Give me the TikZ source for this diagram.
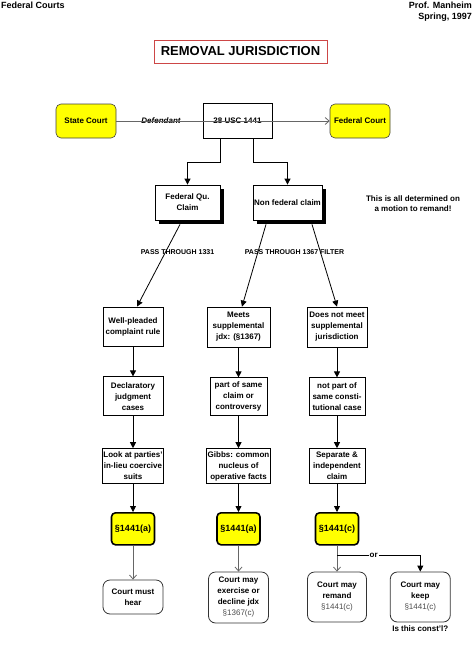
\documentclass[tikz,border=0pt]{standalone}
\usepackage{fontspec}
\setmainfont{Liberation Sans}
\usetikzlibrary{positioning,arrows.meta}

\definecolor{hiyellow}{RGB}{255,255,0}
\definecolor{titlered}{RGB}{205,70,70}

\begin{document}
\begin{tikzpicture}[x=1pt, y=-1pt,
		every node/.style={font=\bfseries\fontsize{8}{11}\selectfont, align=center, inner sep=1pt},
		box/.style={draw, rectangle, fill=white, line width=0.8pt},
		shadowline/.style={draw=black, line width=4pt, line join=miter, line cap=butt},
		court/.style={draw=black!75, rounded corners=5pt, fill=hiyellow, line width=0.6pt, minimum width=60pt, minimum height=34pt},
		sect/.style={draw, rounded corners=4pt, fill=hiyellow, line width=1.6pt, minimum width=43pt, minimum height=32pt, font=\bfseries\fontsize{9}{11}\selectfont},
		result/.style={draw=black!80, rounded corners=7pt, line width=0.8pt, minimum width=60pt},
		arr/.style={line width=0.8pt, -{Triangle[length=6pt, width=6pt]}},
		openarr/.style={line width=0.8pt, black!60, -{Straight Barb[length=4pt, width=7pt]}}
	]
	\useasboundingbox (0,0) rectangle (474,645);

	% header
	\node [anchor=north west, font=\bfseries\fontsize{9}{11}\selectfont] (course) at (0,1) {Federal Courts};
	\node [anchor=north east, align=right, font=\bfseries\fontsize{9}{11}\selectfont] (prof) at (473,1) {Prof. Manheim\\Spring, 1997};
	\node [draw=titlered, line width=0.8pt, minimum width=173pt, minimum height=23pt, font=\bfseries\fontsize{13}{15}\selectfont] (title) at (240.5,51.5) {REMOVAL JURISDICTION};

	% top row
	\node (state) [court] at (86,121) {State Court};
	\node (usc) [box, minimum width=69pt, minimum height=35pt] at (237.5,120.5) {28 USC 1441};
	\node (fed) [court] at (360,121) {Federal Court};
	\node (dfd) [font=\bfseries\itshape\fontsize{8}{10}\selectfont] at (161,121) {Defendant};

	% claim boxes with drop shadows
	\node (fq) [box, minimum width=65pt, minimum height=35pt] at (187.5,202.5) {Federal Qu.\\Claim};
	\node (nf) [box, minimum width=69pt, minimum height=35pt] at (287.5,202.5) {Non federal claim};
	\draw [shadowline] (159,222.4) -- (222.4,222.4) -- (222.4,189);
	\draw [shadowline] (257,222.4) -- (324.4,222.4) -- (324.4,189);
	\node (note) [font=\bfseries\fontsize{8}{10}\selectfont] at (413,204) {This is all determined on\\a motion to remand!};

	\node (pass1) [font=\bfseries\fontsize{7}{9}\selectfont] at (177.5,252) {PASS THROUGH 1331};
	\node (pass2) [font=\bfseries\fontsize{7}{9}\selectfont] at (294.5,252) {PASS THROUGH 1367 FILTER};

	% federal question column
	\node (wp) [box, minimum width=60pt, minimum height=39pt] at (133,326.5) {Well-pleaded\\complaint rule};
	\node (decl) [box, below=30pt of wp, minimum width=60pt, minimum height=39pt] {Declaratory\\judgment\\cases};
	\node (look) [box, below=32pt of decl, minimum width=61pt, minimum height=35pt] {Look at parties'\\in-lieu coercive\\suits};
	\node (s1) [sect, below=28pt of look] {§1441(a)};
	\node (must) [result, below=34pt of s1, minimum height=34pt] {Court must\\hear};

	% supplemental column
	\node (meets) [box, minimum width=63pt, minimum height=40pt] at (238.5,327) {Meets\\supplemental\\jdx: (§1367)};
	\node (part) [box, below=30pt of meets, minimum width=57pt, minimum height=38pt] {part of same\\claim or\\controversy};
	\node (gibbs) [box, below=32pt of part, minimum width=56pt, minimum height=35pt] {Gibbs: common\\nucleus of\\operative facts};
	\node (s2) [sect, below=28pt of gibbs] {§1441(a)};
	\node (exer) [result, below=26pt of s2, minimum height=51pt] {Court may\\exercise or\\decline jdx\\{\mdseries\color{black!70}§1367(c)}};

	% separate claim column
	\node (dnm) [box, minimum width=60pt, minimum height=40pt] at (337,327) {Does not meet\\supplemental\\jurisdiction};
	\node (notp) [box, below=30pt of dnm, minimum width=56pt, minimum height=38pt] {not part of\\same consti-\\tutional case};
	\node (sep) [box, below=32pt of notp, minimum width=56pt, minimum height=35pt] {Separate \&\\independent\\claim};
	\node (s3) [sect, below=28pt of sep] {§1441(c)};
	\node (rem) [result, below=26pt of s3, minimum width=59pt, minimum height=50pt] {Court may\\remand\\{\mdseries\color{black!70}§1441(c)}};
	\node (keep) [result, right=23pt of rem, minimum height=50pt] {Court may\\keep\\{\mdseries\color{black!70}§1441(c)}};
	\node (const) [below=2pt of keep] {Is this const'l?};

	% connectors
	\draw [openarr] (state) -- (fed);
	\draw [arr] ([xshift=-17.5pt]usc.south) -- ++(0,24) -| (fq.north);
	\draw [arr] ([xshift=15.5pt]usc.south) -- ++(0,24) -| (nf.north);

	\draw [arr] ([shift={(-7.5pt,-4pt)}]fq.south) -- ([xshift=4pt]wp.north);
	\draw [arr] ([shift={(-21.5pt,-4pt)}]nf.south) -- ([xshift=3.5pt]meets.north);
	\draw [arr] ([shift={(24.5pt,-4pt)}]nf.south) -- (dnm.north);

	\draw [arr] (wp) -- (decl);
	\draw [arr] (decl) -- (look);
	\draw [arr] (look) -- (s1);
	\draw [arr] (meets) -- (part);
	\draw [arr] (part) -- (gibbs);
	\draw [arr] (gibbs) -- (s2);
	\draw [arr] (dnm) -- (notp);
	\draw [arr] (notp) -- (sep);
	\draw [arr] (sep) -- (s3);

	\draw [openarr] (s1) -- (must);
	\draw [openarr] (s2) -- (exer);
	\draw [openarr] (s3) -- (rem);
	\draw [arr] (s3.south) ++(0,10) -| node [pos=0.22, fill=white] (orlbl) {or} (keep.north);
\end{tikzpicture}
\end{document}
